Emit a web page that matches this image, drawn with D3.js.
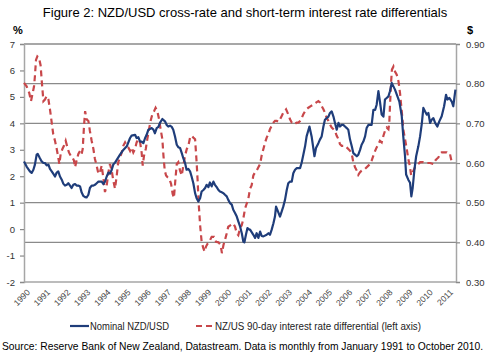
<!DOCTYPE html>
<html><head><meta charset="utf-8">
<script src="https://cdn.jsdelivr.net/npm/d3@7"></script>
<style>
html,body{margin:0;padding:0;background:#fff;}
svg{display:block;font-family:"Liberation Sans",Arial,sans-serif;}
</style></head>
<body><svg id="c" width="500" height="357"></svg>
<script>
// ---- data ----
const yearLabels = ["1990","1991","1992","1993","1994","1995","1996","1997","1998","1999","2000","2001","2002","2003","2004","2005","2006","2007","2008","2009","2010","2011"];
const leftTicks = [-2,-1,0,1,2,3,4,5,6,7];
const rightTicks = [0.3,0.4,0.5,0.6,0.7,0.8,0.9];

// Nominal NZD/USD (right axis, $)
const nzdDates = [1991.00,1991.12,1991.27,1991.35,1991.43,1991.50,1991.58,1991.63,1991.73,1991.81,1991.89,1991.96,1992.04,1992.12,1992.19,1992.27,1992.34,1992.42,1992.50,1992.57,1992.65,1992.73,1992.80,1992.88,1992.96,1993.03,1993.11,1993.18,1993.26,1993.34,1993.41,1993.49,1993.57,1993.64,1993.72,1993.80,1993.87,1993.95,1994.02,1994.10,1994.18,1994.25,1994.33,1994.41,1994.48,1994.56,1994.64,1994.71,1994.79,1994.87,1994.94,1995.02,1995.09,1995.17,1995.25,1995.40,1995.55,1995.71,1995.86,1995.93,1996.09,1996.16,1996.24,1996.32,1996.39,1996.47,1996.55,1996.62,1996.70,1996.77,1996.85,1996.93,1997.00,1997.08,1997.16,1997.23,1997.34,1997.46,1997.54,1997.61,1997.69,1997.77,1997.84,1997.92,1998.00,1998.07,1998.15,1998.23,1998.30,1998.38,1998.45,1998.53,1998.61,1998.68,1998.76,1998.84,1998.91,1998.99,1999.07,1999.14,1999.22,1999.30,1999.37,1999.45,1999.52,1999.60,1999.68,1999.75,1999.83,1999.91,1999.98,2000.06,2000.14,2000.21,2000.29,2000.36,2000.44,2000.52,2000.59,2000.67,2000.75,2000.82,2000.90,2000.98,2001.05,2001.10,2001.17,2001.24,2001.33,2001.36,2001.51,2001.59,2001.66,2001.74,2001.82,2001.89,2001.97,2002.12,2002.20,2002.27,2002.35,2002.43,2002.50,2002.55,2002.61,2002.73,2002.81,2002.88,2002.96,2003.04,2003.11,2003.19,2003.27,2003.34,2003.42,2003.50,2003.65,2003.72,2003.80,2003.88,2003.95,2004.08,2004.18,2004.31,2004.38,2004.49,2004.56,2004.64,2004.72,2004.79,2004.87,2004.95,2005.02,2005.10,2005.18,2005.25,2005.33,2005.41,2005.48,2005.56,2005.63,2005.71,2005.79,2005.86,2005.94,2006.02,2006.09,2006.17,2006.25,2006.32,2006.40,2006.47,2006.55,2006.63,2006.70,2006.78,2006.86,2006.93,2007.01,2007.09,2007.16,2007.24,2007.31,2007.39,2007.47,2007.54,2007.62,2007.70,2007.77,2007.85,2008.00,2008.20,2008.31,2008.38,2008.46,2008.51,2008.61,2008.69,2008.75,2008.81,2008.89,2008.97,2009.07,2009.15,2009.23,2009.30,2009.38,2009.46,2009.53,2009.61,2009.68,2009.76,2009.84,2009.94,2010.03,2010.14,2010.25,2010.34,2010.40,2010.49,2010.60,2010.67,2010.77];
const nzdValues = [0.604,0.591,0.579,0.575,0.583,0.596,0.621,0.623,0.612,0.604,0.600,0.600,0.594,0.596,0.585,0.579,0.573,0.566,0.576,0.579,0.566,0.558,0.548,0.543,0.545,0.549,0.543,0.537,0.545,0.547,0.543,0.543,0.541,0.526,0.517,0.514,0.513,0.520,0.537,0.543,0.543,0.545,0.549,0.553,0.553,0.553,0.547,0.553,0.566,0.576,0.573,0.583,0.596,0.601,0.608,0.621,0.633,0.642,0.663,0.669,0.671,0.663,0.665,0.654,0.654,0.650,0.663,0.671,0.684,0.686,0.688,0.684,0.675,0.688,0.691,0.701,0.711,0.705,0.696,0.692,0.694,0.691,0.684,0.667,0.646,0.640,0.638,0.625,0.612,0.600,0.583,0.585,0.579,0.566,0.549,0.524,0.511,0.503,0.511,0.528,0.532,0.537,0.545,0.539,0.551,0.541,0.553,0.545,0.539,0.532,0.528,0.526,0.524,0.520,0.516,0.507,0.499,0.495,0.482,0.474,0.465,0.453,0.440,0.423,0.402,0.400,0.419,0.436,0.432,0.432,0.419,0.411,0.423,0.411,0.427,0.416,0.415,0.419,0.423,0.419,0.432,0.448,0.465,0.490,0.482,0.465,0.478,0.490,0.507,0.532,0.549,0.553,0.553,0.574,0.583,0.587,0.587,0.600,0.621,0.642,0.667,0.692,0.667,0.617,0.638,0.650,0.659,0.667,0.692,0.709,0.713,0.717,0.726,0.730,0.717,0.701,0.684,0.701,0.692,0.696,0.696,0.692,0.688,0.684,0.659,0.642,0.625,0.621,0.617,0.621,0.633,0.646,0.654,0.667,0.688,0.696,0.696,0.696,0.734,0.734,0.747,0.781,0.755,0.722,0.717,0.760,0.764,0.768,0.781,0.802,0.785,0.755,0.718,0.667,0.617,0.571,0.558,0.550,0.516,0.537,0.583,0.617,0.642,0.667,0.700,0.739,0.730,0.722,0.726,0.701,0.709,0.713,0.701,0.692,0.705,0.718,0.743,0.772,0.760,0.764,0.755,0.743,0.785];

// NZ/US 90-day interest rate differential (left axis, %)
const diffDates = [1991.00,1991.12,1991.24,1991.32,1991.40,1991.46,1991.50,1991.55,1991.61,1991.69,1991.76,1991.82,1991.89,1991.96,1992.04,1992.12,1992.19,1992.27,1992.34,1992.42,1992.50,1992.57,1992.62,1992.68,1992.76,1992.83,1992.91,1992.99,1993.06,1993.14,1993.22,1993.29,1993.34,1993.41,1993.49,1993.57,1993.64,1993.69,1993.75,1993.80,1993.87,1993.95,1994.02,1994.10,1994.18,1994.25,1994.33,1994.41,1994.48,1994.56,1994.64,1994.71,1994.79,1994.87,1994.94,1995.02,1995.09,1995.17,1995.25,1995.32,1995.40,1995.48,1995.55,1995.63,1995.71,1995.78,1995.86,1995.93,1996.01,1996.09,1996.16,1996.24,1996.32,1996.39,1996.44,1996.50,1996.58,1996.65,1996.73,1996.80,1996.88,1996.96,1997.03,1997.11,1997.19,1997.26,1997.34,1997.39,1997.45,1997.51,1997.58,1997.66,1997.74,1997.81,1997.87,1997.94,1998.00,1998.07,1998.15,1998.23,1998.30,1998.38,1998.46,1998.53,1998.61,1998.68,1998.76,1998.84,1998.91,1998.96,1999.00,1999.07,1999.14,1999.22,1999.28,1999.34,1999.42,1999.49,1999.60,1999.71,1999.80,1999.91,2000.01,2000.07,2000.14,2000.21,2000.29,2000.36,2000.47,2000.59,2000.67,2000.75,2000.82,2000.90,2000.98,2001.05,2001.13,2001.28,2001.36,2001.43,2001.51,2001.59,2001.66,2001.74,2001.82,2001.89,2001.97,2002.05,2002.12,2002.20,2002.27,2002.35,2002.43,2002.50,2002.58,2002.66,2002.73,2002.81,2002.88,2003.01,2003.11,2003.19,2003.27,2003.37,2003.50,2003.57,2003.65,2003.73,2003.80,2003.88,2003.95,2004.03,2004.14,2004.26,2004.38,2004.49,2004.57,2004.64,2004.72,2004.79,2004.87,2004.95,2005.02,2005.10,2005.18,2005.25,2005.33,2005.41,2005.48,2005.56,2005.63,2005.71,2005.79,2005.86,2005.94,2006.02,2006.09,2006.17,2006.25,2006.32,2006.40,2006.47,2006.63,2006.78,2006.86,2006.93,2007.01,2007.09,2007.16,2007.24,2007.31,2007.39,2007.47,2007.54,2007.62,2007.70,2007.74,2007.77,2007.82,2007.86,2007.93,2008.00,2008.08,2008.16,2008.23,2008.31,2008.38,2008.46,2008.54,2008.61,2008.69,2008.74,2008.81,2008.92,2008.99,2009.07,2009.15,2009.30,2009.45,2009.61,2009.76,2009.84,2009.91,2009.99,2010.06,2010.14,2010.29,2010.37,2010.45,2010.52,2010.60];
const diffValues = [5.53,5.40,5.15,4.84,5.15,5.40,5.78,6.40,6.53,6.46,6.20,5.53,4.84,4.90,5.03,4.90,4.53,4.03,3.59,3.34,3.03,2.71,2.46,2.84,3.03,3.15,3.34,3.09,2.90,2.78,2.71,2.59,2.34,2.59,2.84,2.96,2.84,3.03,3.90,4.46,4.15,4.09,3.71,3.34,3.03,2.65,2.40,2.09,2.15,2.40,1.90,1.40,1.65,2.15,2.46,2.21,1.84,1.53,2.03,2.53,2.71,2.90,3.15,3.28,3.15,3.09,2.96,3.09,2.90,3.03,3.28,3.40,3.28,2.90,2.40,2.78,3.03,3.40,3.78,4.09,4.34,4.46,4.59,4.46,4.15,3.78,3.40,2.78,2.21,2.03,1.96,1.90,1.71,1.34,1.18,1.90,2.46,2.53,2.21,2.03,2.40,2.78,3.03,3.15,3.46,3.53,3.46,3.40,2.53,1.78,1.03,0.15,-0.48,-0.73,-0.85,-0.66,-0.54,-0.48,-0.29,-0.29,-0.48,-0.50,-0.60,-0.91,-0.60,-0.41,-0.16,0.09,0.15,0.21,0.09,-0.16,-0.23,0.03,0.15,0.40,0.78,1.15,1.53,1.65,2.03,2.15,2.21,2.34,2.46,2.78,3.03,3.28,3.46,3.59,3.78,3.90,4.03,4.09,4.09,4.06,4.15,4.28,4.40,4.53,4.34,4.15,4.03,3.96,4.03,4.03,4.09,4.21,4.34,4.46,4.53,4.59,4.65,4.71,4.78,4.84,4.78,4.65,4.53,4.40,4.21,4.09,3.96,3.84,3.78,3.71,3.53,3.40,3.21,3.15,3.15,3.15,3.09,3.03,2.96,2.84,2.53,2.34,2.21,2.05,2.15,2.21,2.28,2.40,2.46,2.59,2.78,2.96,3.09,3.21,3.34,3.28,3.53,3.71,3.84,3.78,4.03,4.65,5.53,6.03,6.15,5.96,5.84,5.59,5.15,4.46,3.78,3.40,3.03,2.65,2.34,2.03,2.15,2.34,2.40,2.46,2.53,2.53,2.50,2.50,2.46,2.59,2.65,2.71,2.84,2.90,2.90,2.90,2.84,2.84,2.53];

// ---- drawing ----
const svg = d3.select("#c");
const L = 24, R = 456, T = 44, B = 282;
const x = d3.scaleLinear().domain([1991, 2010.75]).range([L, 455]);
const yL = d3.scaleLinear().domain([-2, 7]).range([B, T]);
const yR = d3.scaleLinear().domain([0.3, 0.9]).range([B, T]);
const xLab = d3.scalePoint().domain(yearLabels).range([27, 450]);

// title
svg.append("text").attr("x", 245).attr("y", 17).attr("text-anchor", "middle")
  .attr("font-size", 13).attr("fill", "#000")
  .text("Figure 2: NZD/USD cross-rate and short-term interest rate differentials");

// gridlines from right axis
svg.append("g").selectAll("line").data(rightTicks.filter(d => d > 0.3)).join("line")
  .attr("x1", L).attr("x2", R).attr("y1", d => yR(d)).attr("y2", d => yR(d))
  .attr("stroke", "#8a8a8a").attr("stroke-width", 1.3);

// left axis
const gL = svg.append("g").attr("transform", `translate(${L},0)`)
  .call(d3.axisLeft(yL).tickValues(leftTicks).tickSize(4).tickPadding(5).tickFormat(d => String(d)));
gL.select(".domain").attr("stroke", "#a6a6a6").attr("stroke-width", 1.5);
gL.selectAll(".tick line").attr("stroke", "#8a8a8a").attr("stroke-width", 1.2);
gL.selectAll(".tick text").attr("font-size", 9.5).attr("fill", "#333").attr("font-family", "Liberation Sans, Arial, sans-serif");

// right axis
const gR = svg.append("g").attr("transform", `translate(${R},0)`)
  .call(d3.axisRight(yR).tickValues(rightTicks).tickSize(4).tickPadding(6).tickFormat(d3.format(".2f")));
gR.select(".domain").attr("stroke", "#a6a6a6").attr("stroke-width", 1.5);
gR.selectAll(".tick line").attr("stroke", "#8a8a8a").attr("stroke-width", 1.2);
gR.selectAll(".tick text").attr("font-size", 9.5).attr("fill", "#333").attr("font-family", "Liberation Sans, Arial, sans-serif");

// bottom axis line
svg.append("line").attr("x1", L).attr("x2", R).attr("y1", B).attr("y2", B)
  .attr("stroke", "#a6a6a6").attr("stroke-width", 1.5);

// x labels
const gX = svg.append("g").attr("transform", `translate(0,${B + 8})`)
  .call(d3.axisBottom(xLab).tickSize(0).tickPadding(0));
gX.select(".domain").remove();
gX.selectAll(".tick text").attr("font-size", 8.5).attr("fill", "#444")
  .attr("font-family", "Liberation Sans, Arial, sans-serif")
  .attr("text-anchor", "end").attr("transform", "rotate(-45)").attr("dy", "0.5em").attr("y", 0);

// unit labels
svg.append("text").attr("x", 13).attr("y", 34).attr("font-size", 11).attr("font-weight", "bold").text("%");
svg.append("text").attr("x", 467).attr("y", 34).attr("font-size", 11).attr("font-weight", "bold").text("$");

// series
const diffData = diffDates.map((d, i) => [d, diffValues[i]]);
const nzdData = nzdDates.map((d, i) => [d, nzdValues[i]]);
svg.append("path").datum(diffData)
  .attr("d", d3.line().x(d => x(d[0])).y(d => yL(d[1])))
  .attr("fill", "none").attr("stroke", "#c8474a").attr("stroke-width", 2.2)
  .attr("stroke-dasharray", "6,4");
svg.append("path").datum(nzdData)
  .attr("d", d3.line().x(d => x(d[0])).y(d => yR(d[1])))
  .attr("fill", "none").attr("stroke", "#1f3d7a").attr("stroke-width", 2.2)
  .attr("stroke-linejoin", "round");

// legend
const lg = svg.append("g");
lg.append("line").attr("x1", 70).attr("x2", 89).attr("y1", 326).attr("y2", 326)
  .attr("stroke", "#1f3d7a").attr("stroke-width", 2.2);
lg.append("text").attr("x", 90).attr("y", 329.5).attr("font-size", 10).attr("fill", "#222")
  .attr("textLength", 79).attr("lengthAdjust", "spacingAndGlyphs")
  .text("Nominal NZD/USD");
lg.append("line").attr("x1", 196).attr("x2", 212).attr("y1", 326).attr("y2", 326)
  .attr("stroke", "#c8474a").attr("stroke-width", 2.2).attr("stroke-dasharray", "6,4");
lg.append("text").attr("x", 215).attr("y", 329.5).attr("font-size", 10).attr("fill", "#222")
  .attr("textLength", 206).attr("lengthAdjust", "spacingAndGlyphs")
  .text("NZ/US 90-day interest rate differential (left axis)");

// source
svg.append("text").attr("x", 2).attr("y", 349.5).attr("font-size", 10.6).attr("fill", "#000")
  .attr("textLength", 481).attr("lengthAdjust", "spacingAndGlyphs")
  .text("Source: Reserve Bank of New Zealand, Datastream. Data is monthly from January 1991 to October 2010.");
</script></body></html>
